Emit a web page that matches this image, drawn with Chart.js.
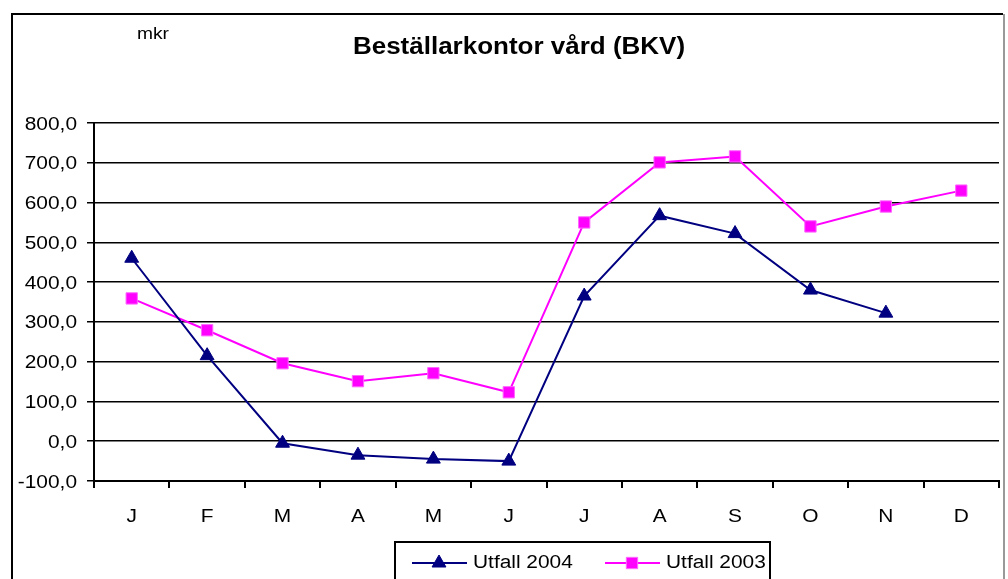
<!DOCTYPE html>
<html>
<head>
<meta charset="utf-8">
<script src="https://cdn.jsdelivr.net/npm/chart.js@4"></script>
<style>
  html, body { margin: 0; padding: 0; background: #fff; }
  #wrap { position: relative; width: 1008px; height: 579px; }
</style>
</head>
<body>
<div id="wrap"><canvas id="bkv" width="1008" height="579"></canvas></div>
<script>
// data
const months = ['J', 'F', 'M', 'A', 'M', 'J', 'J', 'A', 'S', 'O', 'N', 'D'];
const utfall2004 = [460, 215, -5, -35, -45, -50, 365, 567, 522, 380, 322, null];
const utfall2003 = [359, 279, 196, 151, 171, 123, 550, 701, 716, 540, 590, 630];
const yMin = -100;
const yMax = 800;
const yStep = 100;

const chartTitle = 'Beställarkontor vård (BKV)';
const unitLabel = 'mkr';

const FONT = '"Liberation Sans", Arial, sans-serif';
// the original text is a little wider than Arial, so stretch it sideways
const STRETCH = 1.16;

function wideText(c, text, x, y, align, sx) {
    c.save();
    c.translate(x, y);
    c.scale(sx, 1);
    c.textAlign = align;
    c.textBaseline = 'alphabetic';
    c.fillText(text, 0, 0);
    c.restore();
}

// frame, title, unit text, tick labels and the boxed legend
const decorations = {
    id: 'decorations',
    beforeDraw(chart) {
        const c = chart.ctx;
        c.save();
        c.fillStyle = '#fff';
        c.fillRect(0, 0, chart.width, chart.height);
        c.lineWidth = 2;
        c.strokeStyle = '#000';
        c.beginPath();
        c.moveTo(12, 600);
        c.lineTo(12, 14);
        c.lineTo(1003, 14);
        c.stroke();
        c.strokeStyle = '#999';
        c.beginPath();
        c.moveTo(1004, 14);
        c.lineTo(1004, 600);
        c.stroke();
        c.restore();
    },
    afterDraw(chart) {
        const c = chart.ctx;
        c.save();
        c.fillStyle = '#000';

        c.font = 'bold 23px ' + FONT;
        wideText(c, chartTitle, 519, 54, 'center', 1.13);
        c.font = '16px ' + FONT;
        wideText(c, unitLabel, 137, 39, 'left', 1.2);

        // tick labels, placed by the scales
        c.font = '18px ' + FONT;
        const ys = chart.scales.y;
        ys.ticks.forEach((t, i) => {
            const y = ys.getPixelForTick(i);
            wideText(c, t.value.toFixed(1).replace('.', ','), ys.right - 17, y + 6.5, 'right', STRETCH);
        });
        const xs = chart.scales.x;
        xs.ticks.forEach((t, i) => {
            wideText(c, chart.data.labels[t.value], xs.getPixelForTick(i), 522, 'center', STRETCH);
        });

        // legend
        c.lineWidth = 2;
        c.strokeStyle = '#000';
        c.strokeRect(395, 542, 375, 60);
        const starts = [412, 605];
        chart.data.datasets.forEach((ds, i) => {
            const x0 = starts[i];
            const y = 563;
            c.strokeStyle = ds.borderColor;
            c.lineWidth = 2;
            c.beginPath();
            c.moveTo(x0, y);
            c.lineTo(x0 + 55, y);
            c.stroke();
            c.fillStyle = ds.pointBackgroundColor;
            c.strokeStyle = ds.pointBorderColor;
            c.lineWidth = 1;
            Chart.helpers.drawPoint(c, {
                pointStyle: ds.pointStyle,
                radius: ds.pointRadius,
                borderWidth: 1
            }, x0 + 27, y);
            c.fillStyle = '#000';
            wideText(c, ds.label, x0 + 61, 568, 'left', STRETCH);
        });
        c.restore();
    }
};

new Chart(document.getElementById('bkv'), {
    type: 'line',
    data: {
        labels: months,
        datasets: [{
            label: 'Utfall 2004',
            data: utfall2004,
            borderColor: '#000080',
            borderWidth: 2,
            pointStyle: 'triangle',
            pointRadius: 8,
            pointBackgroundColor: '#000080',
            pointBorderColor: '#000080',
            pointBorderWidth: 1,
            spanGaps: false
        }, {
            label: 'Utfall 2003',
            data: utfall2003,
            borderColor: '#ff00ff',
            borderWidth: 2,
            pointStyle: 'rect',
            pointRadius: 8,
            pointBackgroundColor: '#ff00ff',
            pointBorderColor: '#ff66ff',
            pointBorderWidth: 1
        }]
    },
    options: {
        responsive: false,
        animation: false,
        layout: { padding: { top: 123, right: 4, left: 0, bottom: 0 } },
        plugins: {
            legend: { display: false },
            title: { display: false },
            tooltip: { enabled: false }
        },
        elements: { line: { tension: 0 } },
        scales: {
            x: {
                offset: true,
                afterFit(scale) { scale.height = 98; },
                grid: {
                    offset: true,
                    drawOnChartArea: false,
                    drawTicks: true,
                    tickLength: 7,
                    color: '#000',
                    lineWidth: 2
                },
                border: { color: '#000', width: 2 },
                ticks: { display: false, autoSkip: false, maxRotation: 0 }
            },
            y: {
                min: yMin,
                max: yMax,
                afterFit(scale) { scale.width = 94; },
                grid: {
                    color: '#000',
                    lineWidth: 1.5,
                    tickLength: 7
                },
                border: { color: '#000', width: 2 },
                ticks: { display: false, stepSize: yStep }
            }
        }
    },
    plugins: [decorations]
});
</script>
</body>
</html>
